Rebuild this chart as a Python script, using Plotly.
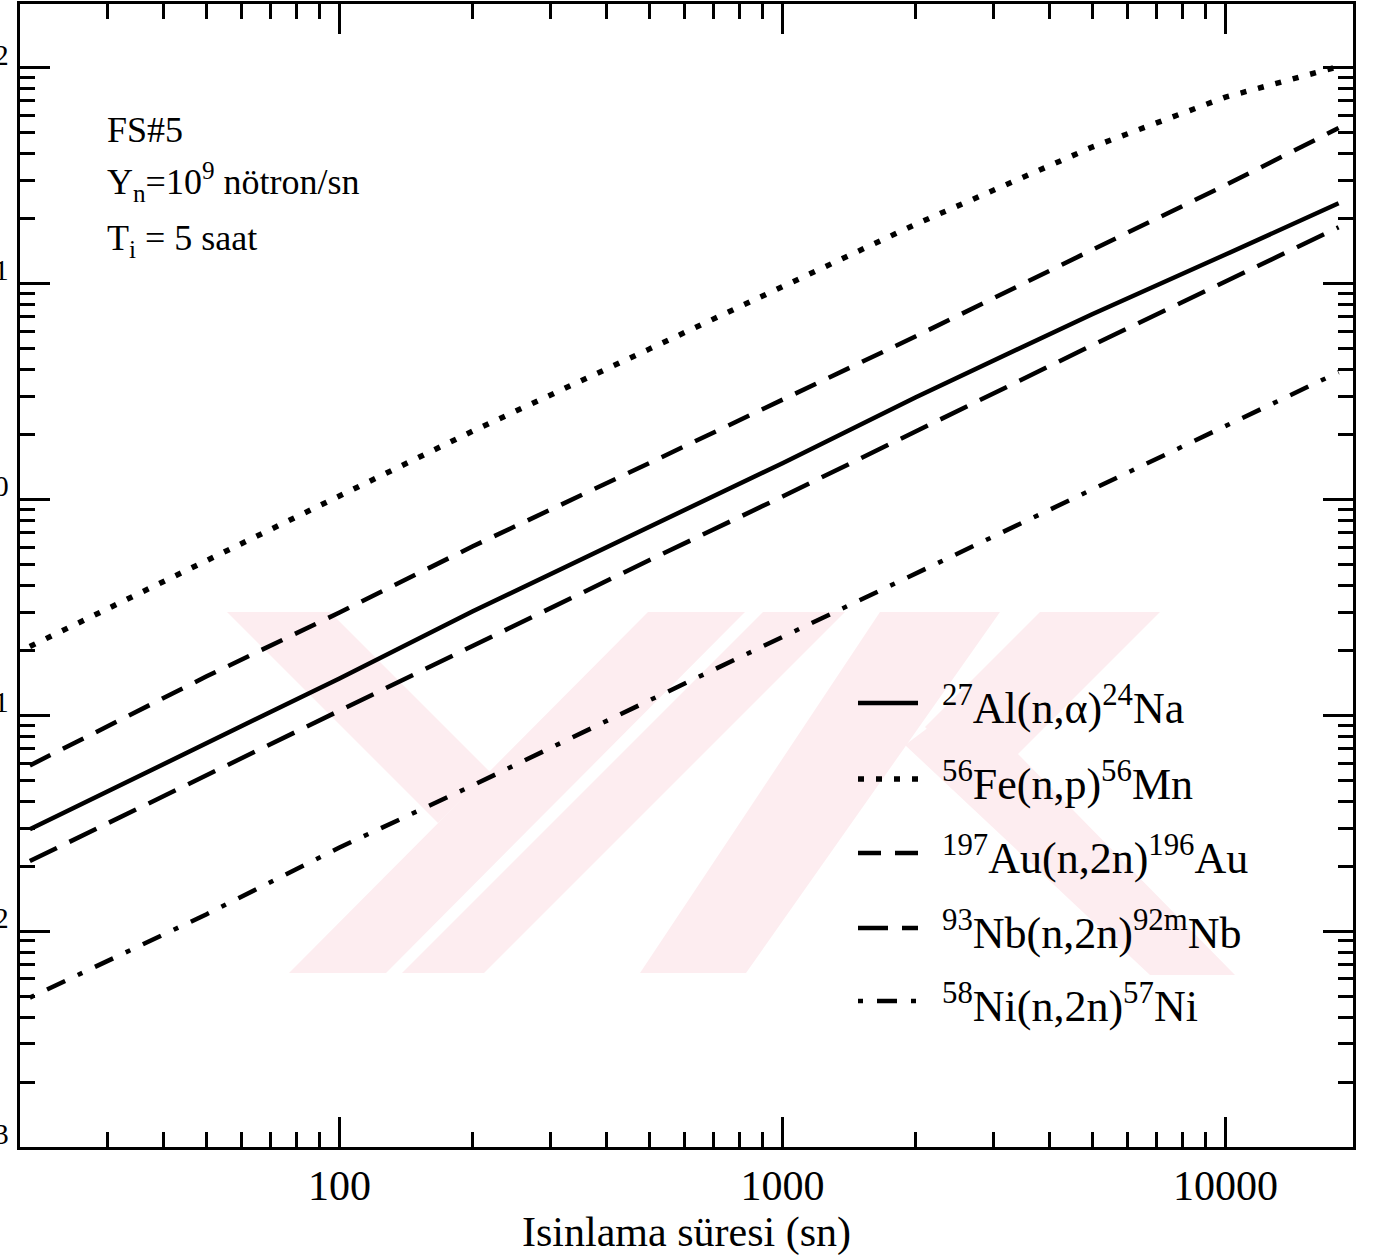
import plotly.graph_objects as go

# Irradiation time (s)
t_irr = [20, 50, 100, 200, 500, 1000, 2000, 5000, 10000, 18000]

# Induced activity for each reaction
al_na24 = [0.0296, 0.0740, 0.148, 0.303, 0.750, 1.47, 2.97, 7.20, 13.6, 23.5]
fe_mn56 = [0.208, 0.521, 1.04, 2.07, 4.96, 9.60, 18.8, 42.8, 72.9, 101]
au_au196 = [0.0585, 0.151, 0.299, 0.606, 1.47, 2.88, 5.69, 14.3, 28.5, 52.4]
nb_nb92m = [0.0211, 0.0526, 0.105, 0.210, 0.522, 1.03, 2.07, 5.17, 10.2, 18.2]
ni_ni57 = [0.00492, 0.01194, 0.0244, 0.0473, 0.117, 0.230, 0.454, 1.11, 2.20, 3.88]

series_names = [
    "<sup>27</sup>Al(n,α)<sup>24</sup>Na",
    "<sup>56</sup>Fe(n,p)<sup>56</sup>Mn",
    "<sup>197</sup>Au(n,2n)<sup>196</sup>Au",
    "<sup>93</sup>Nb(n,2n)<sup>92m</sup>Nb",
    "<sup>58</sup>Ni(n,2n)<sup>57</sup>Ni",
]
series_values = [al_na24, fe_mn56, au_au196, nb_nb92m, ni_ni57]
series_dash = ["solid", "6px,12px", "23px,14px", "30px,14px", "5px,14px,20px,14px"]
series_width = [4.5, 5.5, 4.5, 4.5, 4.5]

x_tick_vals = [100, 1000, 10000]
x_tick_text = ["100", "1000", "10000"]
x_minor_vals = [m * d for d in (10, 100, 1000) for m in range(2, 10) if m * d >= 30]
y_tick_vals = [0.001, 0.01, 0.1, 1, 10, 100]
y_tick_text = ["10<sup>-3</sup>", "10<sup>-2</sup>", "10<sup>-1</sup>",
               "10<sup>0</sup>", "10<sup>1</sup>", "10<sup>2</sup>"]
y_minor_vals = [m * d for d in (0.001, 0.01, 0.1, 1, 10) for m in range(2, 10)]

x_title = "Isinlama süresi (sn)"
info_lines = ["FS#5", "Y<sub>n</sub>=10<sup>9</sup> nötron/sn", "T<sub>i</sub> = 5 saat"]

FONT = "Liberation Serif"
W, H = 1377, 1257
L_M, R_M, T_M, B_M = 20, 24, 4, 110

fig = go.Figure()
for name, vals, dash, lw in zip(series_names, series_values, series_dash, series_width):
    fig.add_trace(go.Scatter(
        x=t_irr, y=vals, mode="lines", name=name, showlegend=False,
        line=dict(color="black", width=lw, dash=dash),
    ))

# paper-coordinate helpers for the hand-placed key, text block and background logo
pw, ph = W - L_M - R_M, H - T_M - B_M
def px(x):
    return (x - L_M) / pw
def py(y):
    return (H - B_M - y) / ph
def poly_path(pts):
    return "M " + " L ".join(f"{px(a):.5f},{py(b):.5f}" for a, b in pts) + " Z"

# faint pink background logo (page pixel outlines of its slanted strokes)
logo_strokes = [
    [(227, 612), (330, 612), (490, 772), (438, 823)],
    [(648, 612), (745, 612), (386, 973), (289, 973)],
    [(763, 612), (845, 612), (484, 973), (402, 973)],
    [(880, 612), (1000, 612), (746, 973), (640, 973)],
    [(1040, 612), (1160, 612), (985, 787), (925, 727)],
    [(905, 745), (965, 700), (1235, 975), (1150, 975)],
]

shapes = []
for pts in logo_strokes:
    shapes.append(dict(type="path", xref="paper", yref="paper", path=poly_path(pts),
                       fillcolor="#fdedf0", line=dict(width=0), layer="below"))

annotations = []
key_rows = [703, 779, 853, 928, 1001]
for name, dash, lw, yr in zip(series_names, series_dash, series_width, key_rows):
    shapes.append(dict(type="line", xref="paper", yref="paper",
                       x0=px(858), x1=px(918), y0=py(yr), y1=py(yr),
                       line=dict(color="black", width=lw, dash=dash)))
    annotations.append(dict(xref="paper", yref="paper", x=px(940), y=py(yr + 2),
                            xanchor="left", yanchor="middle", showarrow=False,
                            text=name, font=dict(family=FONT, size=44, color="black")))

for txt, yy in zip(info_lines, [130, 182, 240]):
    annotations.append(dict(xref="paper", yref="paper", x=px(105), y=py(yy),
                            xanchor="left", yanchor="middle", showarrow=False,
                            text=txt, font=dict(family=FONT, size=36, color="black")))

axis_common = dict(
    showline=True, linecolor="black", linewidth=3, mirror="ticks",
    ticks="inside", tickwidth=2.5, tickcolor="black", ticklen=30,
    showgrid=False, zeroline=False, automargin=False,
    tickfont=dict(family=FONT, size=42, color="black"),
)
minor_common = dict(ticks="inside", ticklen=15, tickwidth=2.5, tickcolor="black", showgrid=False)

fig.update_layout(
    width=W, height=H,
    margin=dict(l=L_M, r=R_M, t=T_M, b=B_M),
    paper_bgcolor="white", plot_bgcolor="rgba(0,0,0,0)",
    template="none",
    xaxis=dict(type="log", range=[1.2788, 4.2878],
               tickmode="array", tickvals=x_tick_vals, ticktext=x_tick_text,
               minor=dict(tickmode="array", tickvals=x_minor_vals, **minor_common),
               title=dict(text=x_title, font=dict(family=FONT, size=42, color="black"), standoff=4),
               **axis_common),
    yaxis=dict(type="log", range=[-3, 2.294],
               tickmode="array", tickvals=y_tick_vals, ticktext=y_tick_text,
               minor=dict(tickmode="array", tickvals=y_minor_vals, **minor_common),
               **axis_common),
    shapes=shapes, annotations=annotations,
)

fig.write_html("out.html")
